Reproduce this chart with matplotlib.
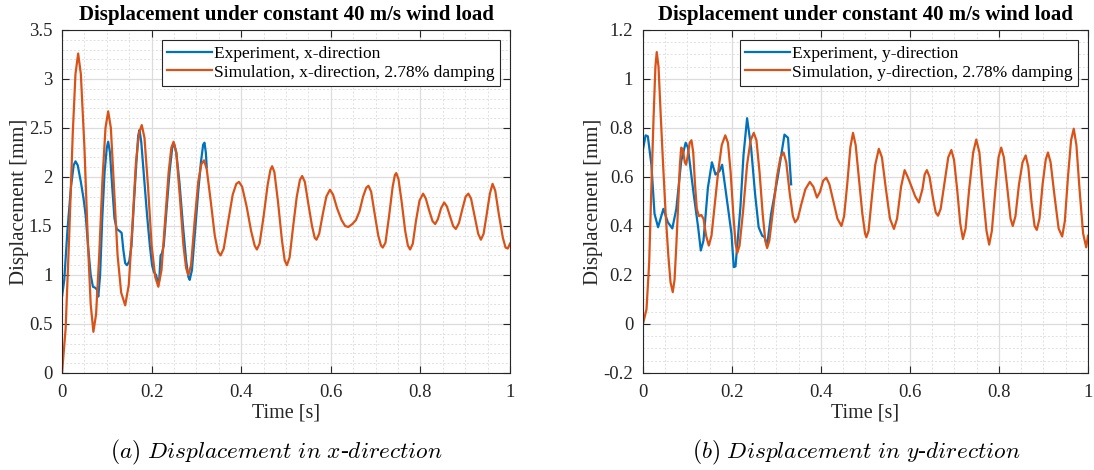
import numpy as np
import matplotlib.pyplot as plt
from matplotlib.ticker import MultipleLocator

# Simulation, x-direction (t [s], displacement [mm])
sim_x_t = [0.000, 0.008, 0.016, 0.024, 0.030, 0.036, 0.042, 0.050, 0.058, 0.064, 0.070, 0.076, 0.083, 0.090,
           0.097, 0.103, 0.109, 0.116, 0.124, 0.132, 0.141, 0.149, 0.157, 0.165, 0.172, 0.178, 0.184, 0.192,
           0.200, 0.208, 0.215, 0.222, 0.230, 0.238, 0.244, 0.249, 0.255, 0.263, 0.271, 0.277, 0.282, 0.288,
           0.296, 0.304, 0.311, 0.317, 0.323, 0.332, 0.341, 0.348, 0.354, 0.361, 0.371, 0.381, 0.389, 0.395,
           0.402, 0.412, 0.422, 0.430, 0.435, 0.441, 0.450, 0.459, 0.465, 0.469, 0.474, 0.482, 0.491, 0.497,
           0.502, 0.508, 0.516, 0.524, 0.531, 0.536, 0.542, 0.550, 0.558, 0.564, 0.568, 0.574, 0.582, 0.590,
           0.598, 0.605, 0.614, 0.624, 0.632, 0.639, 0.648, 0.656, 0.664, 0.672, 0.679, 0.684, 0.690, 0.698,
           0.706, 0.712, 0.716, 0.722, 0.730, 0.738, 0.743, 0.746, 0.751, 0.758, 0.766, 0.772, 0.777, 0.783,
           0.790, 0.798, 0.806, 0.812, 0.820, 0.827, 0.833, 0.839, 0.846, 0.853, 0.859, 0.866, 0.873, 0.879,
           0.886, 0.894, 0.901, 0.907, 0.913, 0.921, 0.929, 0.935, 0.941, 0.948, 0.955, 0.961, 0.967, 0.975,
           0.984, 0.990, 0.995, 1.000]
sim_x = [0.00, 0.45, 1.40, 2.45, 3.05, 3.26, 3.05, 2.30, 1.30, 0.70, 0.42, 0.60, 1.20, 1.95,
         2.50, 2.67, 2.50, 1.90, 1.20, 0.82, 0.69, 0.90, 1.50, 2.15, 2.45, 2.53, 2.40, 1.90,
         1.30, 0.98, 0.88, 1.05, 1.55, 2.05, 2.30, 2.36, 2.25, 1.80, 1.30, 1.07, 1.00, 1.10,
         1.55, 1.95, 2.13, 2.17, 2.08, 1.75, 1.40, 1.24, 1.20, 1.27, 1.55, 1.82, 1.93, 1.95,
         1.90, 1.70, 1.45, 1.30, 1.26, 1.32, 1.60, 1.92, 2.07, 2.11, 2.05, 1.75, 1.35, 1.15,
         1.10, 1.18, 1.50, 1.80, 1.97, 2.01, 1.95, 1.72, 1.50, 1.38, 1.36, 1.42, 1.62, 1.80,
         1.87, 1.82, 1.68, 1.56, 1.50, 1.49, 1.52, 1.56, 1.65, 1.80, 1.89, 1.91, 1.85, 1.62,
         1.40, 1.30, 1.28, 1.33, 1.60, 1.90, 2.02, 2.04, 1.98, 1.75, 1.45, 1.30, 1.26, 1.32,
         1.55, 1.76, 1.83, 1.78, 1.65, 1.55, 1.52, 1.57, 1.68, 1.74, 1.70, 1.60, 1.50, 1.47,
         1.53, 1.68, 1.80, 1.83, 1.78, 1.60, 1.42, 1.36, 1.42, 1.62, 1.83, 1.93, 1.86, 1.62,
         1.38, 1.28, 1.27, 1.32]

# Experiment, x-direction
exp_x_t = [0.000, 0.005, 0.012, 0.020, 0.026, 0.030, 0.035, 0.042, 0.048, 0.053, 0.058, 0.064, 0.069, 0.074,
           0.078, 0.081, 0.085, 0.090, 0.095, 0.100, 0.103, 0.107, 0.112, 0.117, 0.122, 0.128, 0.133, 0.137,
           0.141, 0.145, 0.150, 0.155, 0.160, 0.166, 0.170, 0.173, 0.177, 0.183, 0.190, 0.196, 0.201, 0.205,
           0.210, 0.214, 0.217, 0.220, 0.223, 0.227, 0.233, 0.240, 0.246, 0.250, 0.255, 0.262, 0.270, 0.277,
           0.282, 0.285, 0.290, 0.297, 0.304, 0.310, 0.315, 0.318, 0.321, 0.323]
exp_x = [0.78, 0.95, 1.45, 1.90, 2.12, 2.16, 2.12, 1.95, 1.78, 1.60, 1.30, 1.00, 0.88, 0.87,
         0.85, 0.78, 1.00, 1.60, 2.05, 2.30, 2.36, 2.25, 1.90, 1.58, 1.47, 1.45, 1.43, 1.25,
         1.12, 1.10, 1.14, 1.30, 1.70, 2.15, 2.42, 2.48, 2.35, 2.00, 1.60, 1.30, 1.10, 1.03,
         1.00, 0.92, 0.95, 1.20, 1.22, 1.30, 1.65, 2.05, 2.30, 2.34, 2.25, 1.95, 1.50, 1.15,
         0.98, 0.95, 1.05, 1.45, 1.85, 2.15, 2.33, 2.35, 2.25, 2.10]

# Simulation, y-direction
sim_y_t = [0.000, 0.008, 0.014, 0.019, 0.024, 0.028, 0.031, 0.035, 0.040, 0.045, 0.051, 0.057, 0.062, 0.067,
           0.071, 0.075, 0.079, 0.083, 0.086, 0.090, 0.094, 0.097, 0.101, 0.105, 0.109, 0.113, 0.117, 0.121,
           0.126, 0.131, 0.136, 0.142, 0.148, 0.154, 0.161, 0.169, 0.177, 0.185, 0.191, 0.197, 0.203, 0.208,
           0.212, 0.217, 0.225, 0.234, 0.242, 0.249, 0.255, 0.262, 0.269, 0.275, 0.279, 0.284, 0.292, 0.301,
           0.309, 0.316, 0.322, 0.330, 0.337, 0.342, 0.348, 0.356, 0.365, 0.375, 0.383, 0.391, 0.398, 0.405,
           0.412, 0.419, 0.428, 0.437, 0.446, 0.452, 0.459, 0.466, 0.472, 0.478, 0.485, 0.493, 0.499, 0.502,
           0.507, 0.514, 0.522, 0.530, 0.537, 0.546, 0.555, 0.564, 0.571, 0.580, 0.588, 0.595, 0.603, 0.612,
           0.620, 0.628, 0.633, 0.638, 0.644, 0.652, 0.658, 0.663, 0.669, 0.677, 0.686, 0.693, 0.699, 0.706,
           0.713, 0.719, 0.725, 0.733, 0.742, 0.749, 0.756, 0.764, 0.772, 0.778, 0.784, 0.792, 0.799, 0.805,
           0.811, 0.819, 0.826, 0.831, 0.837, 0.845, 0.853, 0.860, 0.866, 0.873, 0.880, 0.885, 0.891, 0.898,
           0.905, 0.910, 0.916, 0.925, 0.934, 0.942, 0.948, 0.955, 0.962, 0.968, 0.974, 0.981, 0.989, 0.996,
           1.000]
sim_y = [0.00, 0.06, 0.25, 0.56, 0.85, 1.05, 1.11, 1.05, 0.85, 0.66, 0.45, 0.28, 0.17, 0.13,
         0.18, 0.32, 0.48, 0.65, 0.72, 0.71, 0.66, 0.65, 0.69, 0.74, 0.75, 0.70, 0.57, 0.47,
         0.44, 0.445, 0.43, 0.36, 0.32, 0.36, 0.48, 0.62, 0.73, 0.77, 0.74, 0.62, 0.45, 0.33,
         0.29, 0.32, 0.46, 0.65, 0.75, 0.78, 0.75, 0.62, 0.45, 0.34, 0.31, 0.34, 0.46, 0.60,
         0.68, 0.70, 0.66, 0.53, 0.44, 0.415, 0.43, 0.49, 0.55, 0.58, 0.56, 0.516, 0.54, 0.585,
         0.597, 0.57, 0.50, 0.43, 0.40, 0.44, 0.57, 0.72, 0.78, 0.73, 0.60, 0.45, 0.37, 0.354,
         0.38, 0.51, 0.65, 0.715, 0.68, 0.55, 0.43, 0.388, 0.43, 0.56, 0.628, 0.60, 0.563, 0.52,
         0.496, 0.55, 0.61, 0.628, 0.60, 0.51, 0.455, 0.442, 0.47, 0.57, 0.68, 0.71, 0.67, 0.55,
         0.41, 0.347, 0.39, 0.55, 0.70, 0.753, 0.70, 0.53, 0.38, 0.324, 0.38, 0.55, 0.68, 0.72,
         0.68, 0.55, 0.43, 0.40, 0.44, 0.57, 0.66, 0.688, 0.64, 0.50, 0.40, 0.384, 0.43, 0.57,
         0.67, 0.70, 0.66, 0.52, 0.39, 0.357, 0.42, 0.60, 0.75, 0.797, 0.73, 0.55, 0.37, 0.313,
         0.36]

# Experiment, y-direction
exp_y_t = [0.000, 0.006, 0.011, 0.019, 0.026, 0.034, 0.046, 0.056, 0.066, 0.075, 0.086, 0.096, 0.101, 0.114,
           0.124, 0.130, 0.136, 0.146, 0.155, 0.163, 0.172, 0.178, 0.191, 0.199, 0.204, 0.208, 0.219, 0.226,
           0.234, 0.243, 0.252, 0.260, 0.268, 0.273, 0.279, 0.288, 0.303, 0.318, 0.326, 0.333]
exp_y = [0.712, 0.77, 0.766, 0.65, 0.45, 0.395, 0.47, 0.415, 0.39, 0.47, 0.665, 0.74, 0.72, 0.53,
         0.395, 0.30, 0.34, 0.557, 0.66, 0.61, 0.624, 0.65, 0.476, 0.367, 0.232, 0.235, 0.476, 0.69,
         0.84, 0.72, 0.53, 0.395, 0.36, 0.355, 0.32, 0.45, 0.60, 0.773, 0.76, 0.57]

BLUE = '#0072BD'
ORANGE = '#D95319'

plt.rcParams['font.family'] = ['Liberation Serif', 'DejaVu Serif']
plt.rcParams['mathtext.fontset'] = 'cm'

fig = plt.figure(figsize=(10.94, 4.70), dpi=100)
ax1 = fig.add_axes([0.0567, 0.2064, 0.4095, 0.7298])
ax2 = fig.add_axes([0.5877, 0.2064, 0.4068, 0.7298])


def style_axes(ax, ylim, ymajor, yminor):
    ax.set_xlim(0, 1)
    ax.set_ylim(*ylim)
    ax.xaxis.set_major_locator(MultipleLocator(0.2))
    ax.xaxis.set_minor_locator(MultipleLocator(0.05))
    ax.yaxis.set_major_locator(MultipleLocator(ymajor))
    ax.yaxis.set_minor_locator(MultipleLocator(yminor))
    ax.xaxis.set_major_formatter(plt.FuncFormatter(lambda v, p: f"{v:g}"))
    ax.yaxis.set_major_formatter(plt.FuncFormatter(lambda v, p: f"{v:g}"))
    ax.grid(which='major', color='#dcdcdc', linewidth=0.9)
    ax.grid(which='minor', color='#e0e0e0', linestyle=(0, (2, 2)), linewidth=0.7)
    ax.set_axisbelow(True)
    ax.tick_params(which='both', direction='in', top=True, right=True, labelsize=13.5, colors='#262626')
    ax.tick_params(which='major', length=5)
    ax.tick_params(axis='y', which='major', pad=7)
    ax.tick_params(axis='x', which='major', pad=8)
    ax.tick_params(which='minor', length=0)
    for sp in ax.spines.values():
        sp.set_color('#262626')
        sp.set_linewidth(0.8)
    ax.set_xlabel('Time [s]', fontsize=14.5, color='#262626', labelpad=2)
    ax.set_ylabel('Displacement [mm]', fontsize=15, color='#262626', labelpad=0)
    ax.set_title('Displacement under constant 40 m/s wind load', fontsize=15,
                 fontweight='bold', pad=7)


ax1.plot(exp_x_t, exp_x, color=BLUE, linewidth=1.6, label='Experiment, x-direction')
ax1.plot(sim_x_t, sim_x, color=ORANGE, linewidth=1.6, label='Simulation, x-direction, 2.78% damping')
style_axes(ax1, (0, 3.5), 0.5, 0.1)

ax2.plot(exp_y_t, exp_y, color=BLUE, linewidth=1.6, label='Experiment, y-direction')
ax2.plot(sim_y_t, sim_y, color=ORANGE, linewidth=1.6, label='Simulation, y-direction, 2.78% damping')
style_axes(ax2, (-0.2, 1.2), 0.2, 0.05)

for ax in (ax1, ax2):
    leg = ax.legend(loc='upper right', fontsize=12.5, fancybox=False, framealpha=1,
                    edgecolor='#262626', borderaxespad=0.6, handlelength=2.6,
                    handletextpad=0.1, borderpad=0.3, labelspacing=0.15)
    leg.get_frame().set_linewidth(0.8)

fig.text(0.253, 0.024, r'$\mathit{(a)\ Displacement\ in\ x}$-$\mathit{direction}$',
         fontsize=16.8, ha='center')
fig.text(0.783, 0.024, r'$\mathit{(b)\ Displacement\ in\ y}$-$\mathit{direction}$',
         fontsize=16.8, ha='center')

fig.savefig('out.png', dpi=100)
